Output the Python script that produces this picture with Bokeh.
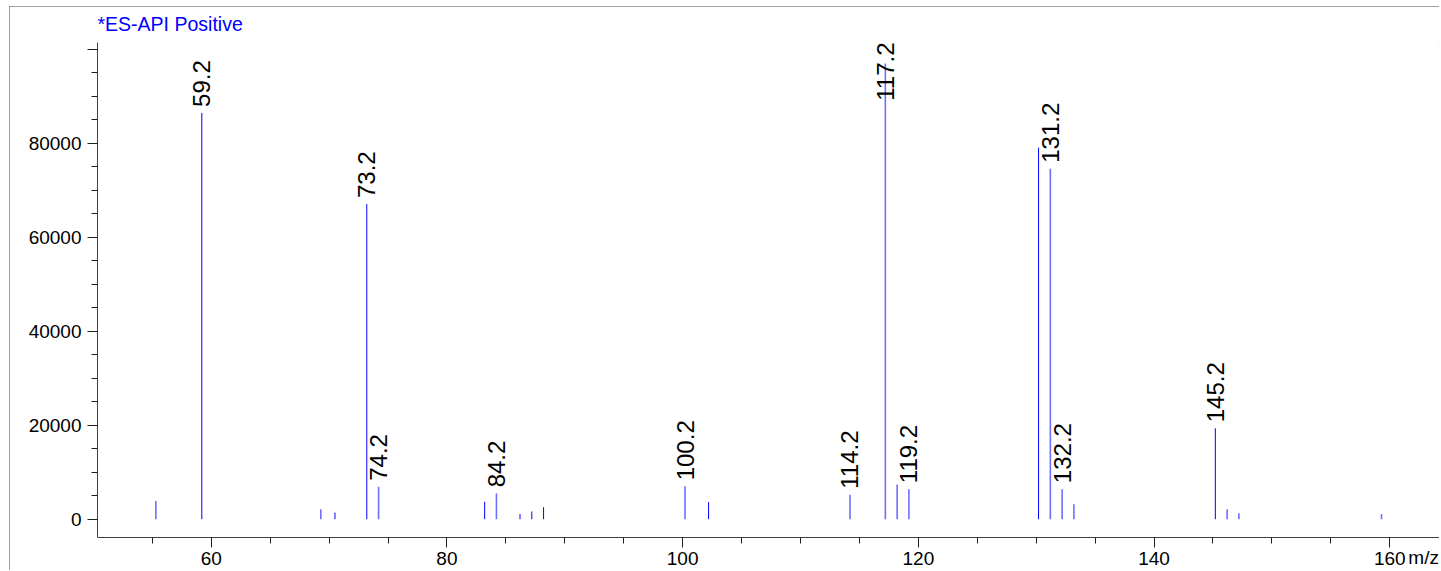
import math
from bokeh.plotting import figure
from bokeh.models import Range1d, FixedTicker, BasicTickFormatter, ColumnDataSource
from bokeh.embed import file_html
from bokeh.resources import INLINE

# ---- data ----
mz = [55.3, 59.2, 69.3, 70.5, 73.2, 74.2, 83.2, 84.2, 86.2, 87.2, 88.2,
      100.2, 102.2, 114.2, 117.2, 118.2, 119.2, 130.2, 131.2, 132.2, 133.2,
      145.2, 146.2, 147.2, 159.3]
intensity = [3900, 86500, 2100, 1400, 67100, 6900, 3700, 5500, 1100, 1650, 2550,
             7000, 3650, 5200, 97000, 7400, 6400, 79100, 74600, 6400, 3200,
             19350, 2100, 1250, 1100]
labeled_peaks = ["59.2", "73.2", "74.2", "84.2", "100.2", "114.2", "117.2",
                 "119.2", "131.2", "132.2", "145.2"]
x_major_ticks = [60, 80, 100, 120, 140, 160]
y_major_ticks = [0, 20000, 40000, 60000, 80000, 100000]
title_text = "*ES-API Positive"
x_unit = "m/z"

# ---- styles (kept apart from data) ----
crisp = [False, True, False, True, True, False, True, False, True, True, True,
         False, True, False, False, False, False, True, False, False, False,
         True, False, False, False]
colors = ["#0000ff" if c else "#6f6fff" for c in crisp]
widths = [1.0 if c else 1.6 for c in crisp]

W, H = 1430, 564
BORDER_TOP, BORDER_LEFT = 36, 88
FRAME_H = 495
X_START, X_END = 50.35, 164.22
Y_START, Y_END = -3896, 101490
FONT = "Liberation Sans"

p = figure(width=W, height=H, output_backend="svg", toolbar_location=None,
           x_range=Range1d(X_START, X_END), y_range=Range1d(Y_START, Y_END),
           min_border_top=BORDER_TOP, min_border_bottom=0,
           min_border_left=BORDER_LEFT, min_border_right=0,
           title=title_text)
p.outline_line_color = None
p.xgrid.visible = False
p.ygrid.visible = False
p.background_fill_color = "white"
p.border_fill_color = "white"
p.styles = {"margin-left": "9px", "margin-top": "6px",
            "outline": "1px solid #808080", "outline-offset": "-1px"}

p.title.text_color = "#0000ff"
p.title.text_font = FONT
p.title.text_font_size = "19.5px"
p.title.text_font_style = "normal"
p.title.align = "left"
p.title.vertical_align = "top"
p.title.standoff = 12
p.title.offset = 0

# axes
xa = p.xaxis[0]
xa.ticker = FixedTicker(ticks=x_major_ticks,
                        minor_ticks=list(range(50, 166, 5)))
ya = p.yaxis[0]
ya.ticker = FixedTicker(ticks=y_major_ticks,
                        minor_ticks=list(range(0, 100001, 5000)))
ya.formatter = BasicTickFormatter(use_scientific=False)
ya.major_label_overrides = {100000: ""}
for ax in (xa, ya):
    ax.axis_line_color = "#404040"
    ax.major_tick_line_color = "#202020"
    ax.minor_tick_line_color = "#202020"
    ax.major_tick_out = 10
    ax.major_tick_in = 0
    ax.minor_tick_out = 6
    ax.minor_tick_in = 0
    ax.major_label_text_font = FONT
    ax.major_label_text_font_size = "19px"
    ax.major_label_text_color = "black"
xa.major_label_standoff = 4
ya.major_label_standoff = 6
ya.major_label_orientation = "horizontal"

# unit of the x axis, written at the right end of the tick-label row
xa.axis_label = x_unit + "\u00a0" * 6
xa.axis_label_align = "end"
xa.axis_label_standoff = -21
xa.axis_label_text_font = FONT
xa.axis_label_text_font_size = "19px"
xa.axis_label_text_font_style = "normal"
xa.axis_label_text_color = "black"

# peaks
src = ColumnDataSource(dict(x=mz, top=intensity, base=[0] * len(mz),
                            color=colors, width=widths))
p.segment(x0="x", y0="base", x1="x", y1="top", source=src,
          line_color="color", line_width="width")

# peak labels
units_per_px = (Y_END - Y_START) / FRAME_H
pad = 6 * units_per_px
char_em = {".": 0.278}
lab_x, lab_y, lab_t, top_x, top_t = [], [], [], [], []
for s in labeled_peaks:
    i = mz.index(float(s))
    length = sum(char_em.get(ch, 0.556) for ch in s) * 24 * units_per_px
    y = intensity[i] + pad
    if y + length > Y_END:
        top_x.append(mz[i]); top_t.append(s)
    else:
        lab_x.append(mz[i]); lab_y.append(y); lab_t.append(s)

p.text(x=lab_x, y=lab_y, text=lab_t, angle=math.pi / 2,
       text_align="left", text_baseline="middle",
       text_font={"value": FONT}, text_font_size="24px", text_color="black")
if top_x:
    p.text(x=top_x, y=[Y_END] * len(top_x), text=top_t, angle=math.pi / 2,
           text_align="right", text_baseline="middle",
           text_font={"value": FONT}, text_font_size="24px", text_color="black")

open("out.html", "w").write(file_html(p, INLINE))
